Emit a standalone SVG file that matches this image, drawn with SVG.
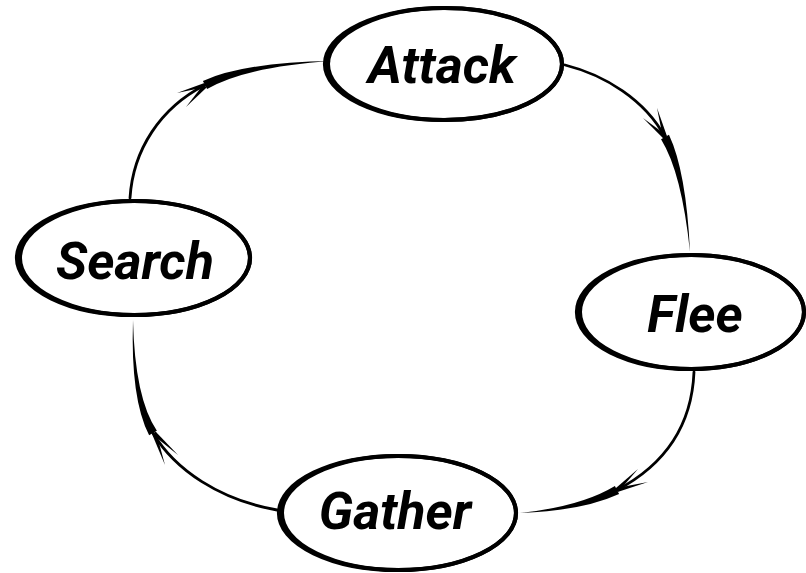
<svg xmlns="http://www.w3.org/2000/svg" width="806" height="573" viewBox="0 0 806 573">
<style>
.ring{fill:none;stroke:#000;stroke-width:4}
.ring2{fill:none;stroke:#000;stroke-width:4.2}
.lbl{font-family:Roboto,"Liberation Sans",sans-serif;font-weight:bold;font-style:italic;font-size:52px;fill:#000;text-anchor:middle}
.line{fill:none;stroke:#000;stroke-width:2.8;stroke-linecap:round}
.taper{fill:#000}
</style>
<rect width="806" height="573" fill="#fff"/>
<g id="connectors">
  <g id="search-attack">
    <path class="line" d="M130,198 C133,150 160,108 205,85"/>
    <path class="taper" d="M202.9,80.95 Q244.55,62.25 332,61 Q245.45,66.75 207.1,89.05 Z"/>
    <path class="taper" d="M177,93 L204.4,82.9 L205.6,87.1 Z"/>
    <path class="taper" d="M186,107 L203.4,84.5 L206.6,87.5 Z"/>
  </g>
  <g id="attack-flee">
    <path class="line" d="M565,65 C605,75 645,100 665,137"/>
    <path class="taper" d="M668.96,134.86 Q686.25,171.55 690,252 Q681.75,172.45 661.04,139.14 Z"/>
    <path class="taper" d="M643,118 L663.6,138.7 L666.4,135.3 Z"/>
    <path class="taper" d="M657,108 L662.9,137.6 L667.1,136.4 Z"/>
  </g>
  <g id="flee-gather">
    <path class="line" d="M694,372 C692,420 670,462 617,490"/>
    <path class="taper" d="M614.9,486.02 Q581.08,506.51 520,513 Q582.12,510.89 619.1,493.98 Z"/>
    <path class="taper" d="M638,469 L618.6,491.6 L615.4,488.4 Z"/>
    <path class="taper" d="M648,482 L617.6,492.1 L616.4,487.9 Z"/>
  </g>
  <g id="gather-search">
    <path class="line" d="M277,510 C220,500 175,470 153,433"/>
    <path class="taper" d="M156.87,430.7 Q134.82,398.21 133,320 Q130.38,398.99 149.13,435.3 Z"/>
    <path class="taper" d="M178,455 L155.5,431.4 L152.5,434.6 Z"/>
    <path class="taper" d="M165,465 L156.1,432.3 L151.9,433.7 Z"/>
  </g>
</g>
<g id="attack">
  <ellipse class="ring" cx="445" cy="64" rx="117" ry="56"/>
  <ellipse class="ring2" cx="443.5" cy="64" rx="118.5" ry="56"/>
  <text class="lbl" x="442" y="83">Attack</text>
</g>
<g id="search">
  <ellipse class="ring" cx="135" cy="258" rx="115" ry="57"/>
  <ellipse class="ring2" cx="133.5" cy="258" rx="116.5" ry="57"/>
  <text class="lbl" x="135" y="279">Search</text>
</g>
<g id="flee">
  <ellipse class="ring" cx="692" cy="312" rx="112" ry="57"/>
  <ellipse class="ring2" cx="690.5" cy="312" rx="113.5" ry="57"/>
  <text class="lbl" x="695" y="332">Flee</text>
</g>
<g id="gather">
  <ellipse class="ring" cx="399" cy="513" rx="117" ry="57"/>
  <ellipse class="ring2" cx="397.5" cy="513" rx="118.5" ry="57"/>
  <text class="lbl" x="395" y="529">Gather</text>
</g>
</svg>
